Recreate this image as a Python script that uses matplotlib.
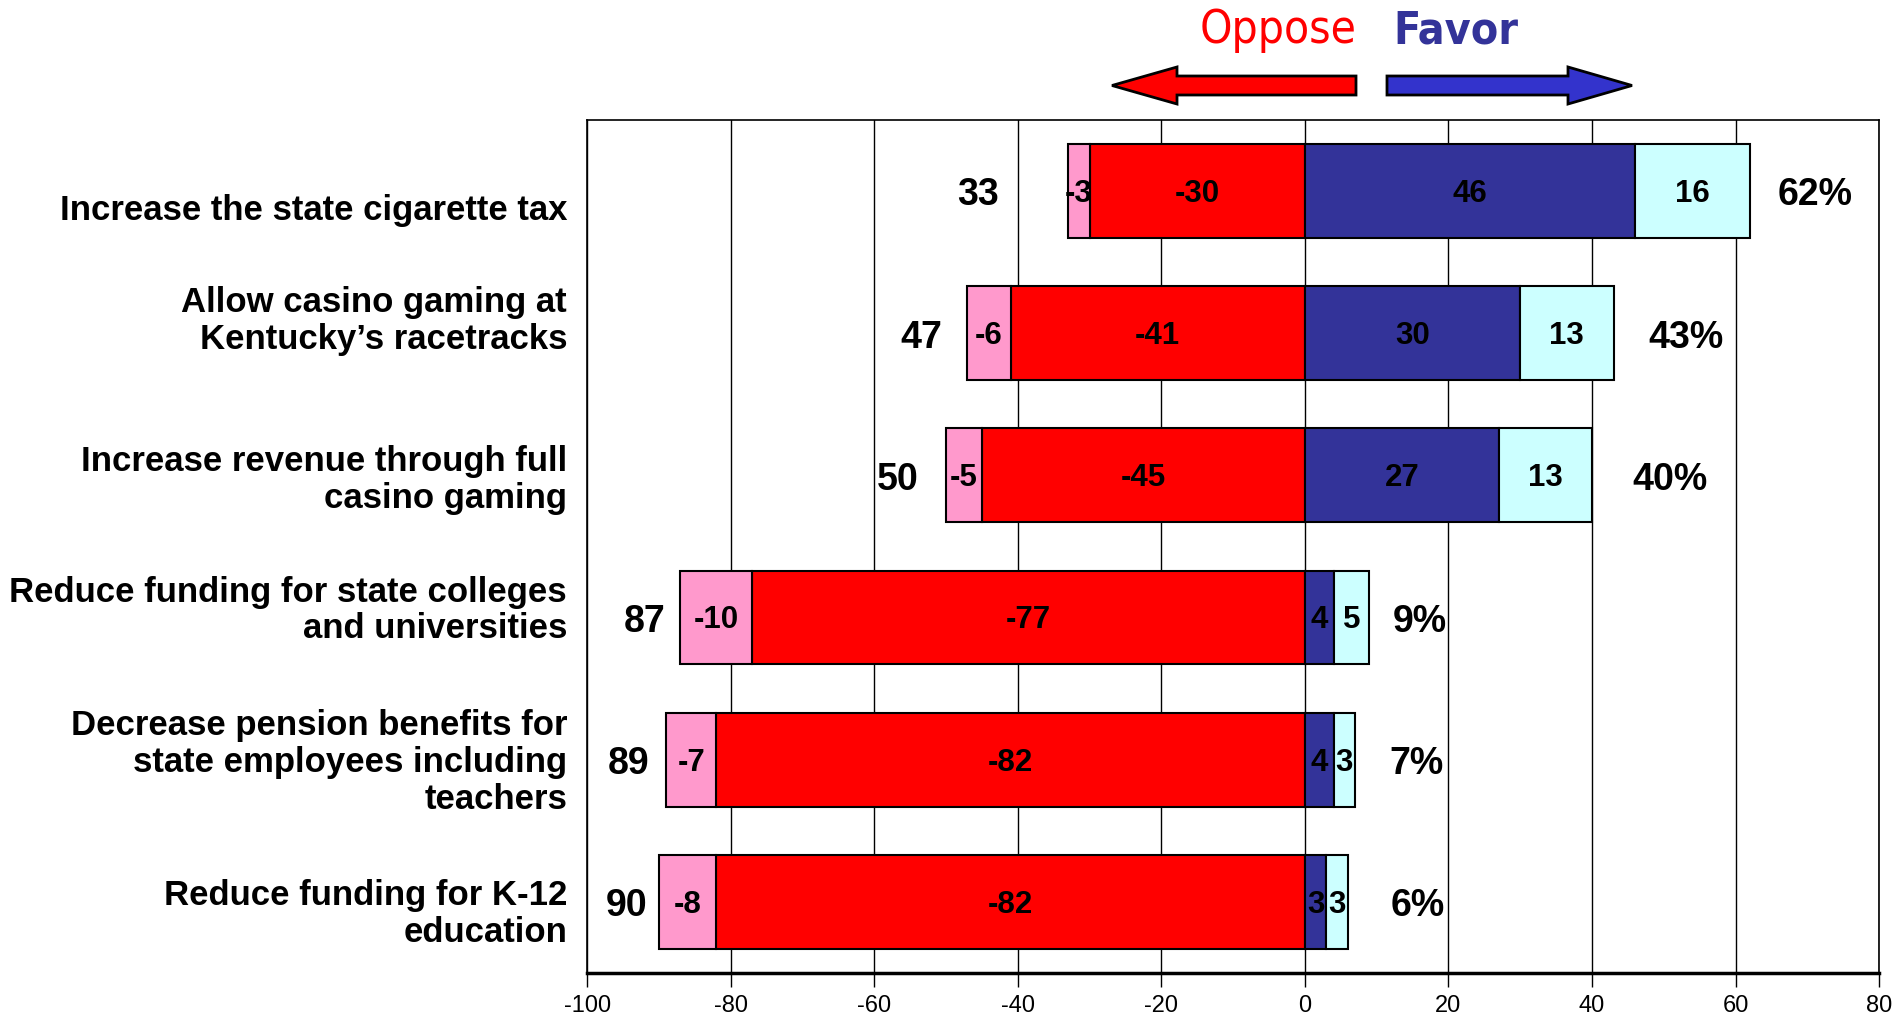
import matplotlib
matplotlib.use("Agg")
from matplotlib import pyplot as plt
from matplotlib.patches import Polygon

# data
items = ["Increase the state cigarette tax",
         "Allow casino gaming at\nKentucky\u2019s racetracks",
         "Increase revenue through full\ncasino gaming",
         "Reduce funding for state colleges\nand universities",
         "Decrease pension benefits for\nstate employees including\nteachers",
         "Reduce funding for K-12\neducation"]
strong_oppose = [-3, -6, -5, -10, -7, -8]
oppose = [-30, -41, -45, -77, -82, -82]
favor = [46, 30, 27, 4, 4, 3]
strong_favor = [16, 13, 13, 5, 3, 3]
total_oppose = [33, 47, 50, 87, 89, 90]
total_favor = [62, 43, 40, 9, 7, 6]
xticks = list(range(-100, 81, 20))

plt.rcParams['font.family'] = ["Liberation Sans", "DejaVu Sans"]
NARROW = dict(family="DejaVu Sans", stretch="condensed")

fig = plt.figure(figsize=(18.95, 10.17), dpi=100)
ax = fig.add_axes([0.3098, 0.0433, 0.6818, 0.8387])

y = list(range(len(items)))
h = 0.66
kw = dict(height=h, edgecolor="black", linewidth=1.5, zorder=3)
ax.barh(y, oppose, color="#FF0000", **kw)
ax.barh(y, strong_oppose, left=oppose, color="#FF99CC", **kw)
ax.barh(y, favor, color="#333399", **kw)
ax.barh(y, strong_favor, left=favor, color="#CCFFFF", **kw)

# gap (points) between bar ends and the total labels, hand placed in the original
opp_pad = [-50, -18, -20, -11, -12, -8]
fav_pad = [20, 25, 29, 17, 25, 31]

for i in y:
    segs = [(oppose[i] + strong_oppose[i] / 2, strong_oppose[i]),
            (oppose[i] / 2, oppose[i]),
            (favor[i] / 2, favor[i]),
            (favor[i] + strong_favor[i] / 2, strong_favor[i])]
    for xc, v in segs:
        ax.text(xc, i + 0.02, str(v), ha="center", va="center", fontsize=22.5,
                fontweight="bold", zorder=5)
    left_end = oppose[i] + strong_oppose[i]
    right_end = favor[i] + strong_favor[i]
    ax.annotate(str(total_oppose[i]), (left_end, i + 0.03),
                xytext=(opp_pad[i], 0), textcoords="offset points",
                ha="right", va="center", fontsize=27, fontweight="bold")
    ax.annotate("%d%%" % total_favor[i], (right_end, i + 0.03),
                xytext=(fav_pad[i], 0), textcoords="offset points",
                ha="left", va="center", fontsize=27, fontweight="bold")

# category labels, nudged a bit like the original
nudge = [0.14, -0.085, 0.03, -0.05, 0.02, 0.085]
for i, lab in enumerate(items):
    ax.text(-0.0155, i + nudge[i], lab, transform=ax.get_yaxis_transform(),
            ha="right", va="center", fontsize=25, fontweight="bold",
            linespacing=1.15)

ax.set_xlim(-100, 80)
ax.set_ylim(5.5, -0.5)
ax.set_xticks(xticks)
ax.set_xticklabels([str(t) for t in xticks], fontsize=17)
ax.set_yticks([])
ax.xaxis.grid(True, color="black", linewidth=1.0, zorder=0)
ax.set_axisbelow(True)
ax.tick_params(axis="x", direction="out", length=10, width=1.0, pad=6)
for s in ax.spines.values():
    s.set_linewidth(1.2)
ax.spines["bottom"].set_linewidth(2.5)

# arrows + legend words on top
ov = fig.add_axes([0, 0, 1, 1], zorder=10)
ov.set_xlim(0, 1895)
ov.set_ylim(1017, 0)
ov.axis("off")
red_arrow = [(1112, 85.5), (1177, 67), (1177, 76), (1356, 76),
             (1356, 95), (1177, 95), (1177, 104)]
blue_arrow = [(1387, 76), (1568, 76), (1568, 67), (1632, 85.5),
              (1568, 104), (1568, 95), (1387, 95)]
ov.add_patch(Polygon(red_arrow, closed=True, facecolor="#FF0000",
                     edgecolor="black", linewidth=2))
ov.add_patch(Polygon(blue_arrow, closed=True, facecolor="#3333CC",
                     edgecolor="black", linewidth=2))
ov.text(1357, 43, "Oppose", color="#FF0000", ha="right", va="baseline",
        fontsize=33, fontweight="normal", **NARROW)
ov.text(1393, 43, "Favor", color="#333399", ha="left", va="baseline",
        fontsize=32, fontweight="bold", **NARROW)

fig.savefig("out.png", dpi=100)
